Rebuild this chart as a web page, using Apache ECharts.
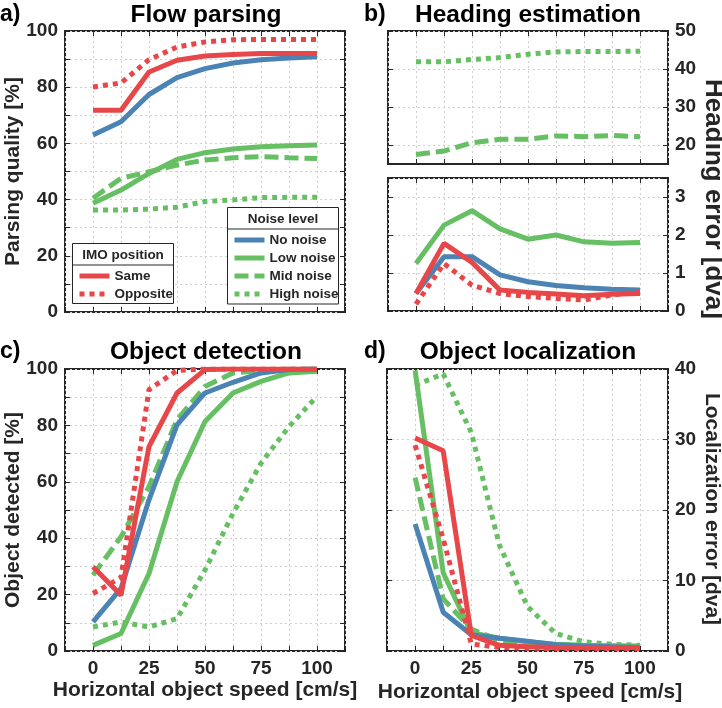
<!DOCTYPE html>
<html><head><meta charset="utf-8">
<script src="https://cdn.jsdelivr.net/npm/echarts@6/dist/echarts.min.js"></script>
<style>html,body{margin:0;padding:0;background:#fff}#c{width:722px;height:708px}</style>
</head><body><div id="c"></div>
<script>
// ---------- data ----------
const speeds = [0, 12.5, 25, 37.5, 50, 62.5, 75, 87.5, 100];
const seriesNames = ['High noise', 'Mid noise', 'Low noise', 'No noise', 'Opposite', 'Same'];
const imoLegend = ['Same', 'Opposite'];
const noiseLegend = ['No noise', 'Low noise', 'Mid noise', 'High noise'];

// a) Flow parsing [%]
const parsingSame      = [71.8, 71.8, 85.4, 89.6, 91.1, 91.6, 92.0, 92.0, 92.0];
const parsingOpposite  = [80.1, 81.5, 89.8, 94.3, 96.1, 96.9, 97.0, 97.0, 97.0];
const parsingNoNoise   = [63.0, 67.7, 77.4, 83.4, 86.6, 88.6, 89.8, 90.4, 90.8];
const parsingLowNoise  = [38.7, 43.4, 49.3, 54.3, 56.7, 58.0, 58.8, 59.2, 59.4];
const parsingMidNoise  = [40.5, 47.6, 49.9, 52.3, 54.1, 54.9, 55.3, 54.9, 54.6];
const parsingHighNoise = [36.3, 36.3, 36.6, 37.3, 39.3, 39.9, 40.7, 40.8, 40.8];

// b) Heading estimation [dva]
const headingSame      = [0.46, 1.78, 1.28, 0.55, 0.49, 0.45, 0.40, 0.44, 0.46];
const headingOpposite  = [0.18, 1.25, 0.68, 0.46, 0.38, 0.33, 0.29, 0.42, 0.51];
const headingNoNoise   = [0.46, 1.43, 1.43, 0.95, 0.77, 0.67, 0.61, 0.57, 0.55];
const headingLowNoise  = [1.25, 2.26, 2.64, 2.16, 1.89, 2.00, 1.82, 1.78, 1.80];
const headingMidNoise  = [17.5, 18.4, 20.6, 21.5, 21.5, 22.4, 22.2, 22.5, 22.2];
const headingHighNoise = [41.9, 41.9, 42.5, 43.0, 43.9, 44.5, 44.6, 44.6, 44.7];

// c) Object detection [%]
const detectSame      = [29.9, 19.8, 72.5, 91.5, 99.8, 100, 100, 100, 100];
const detectOpposite  = [20.4, 26.0, 92.7, 99.5, 100, 100, 100, 100, 100];
const detectNoNoise   = [10.3, 22.2, 53.6, 80.2, 91.5, 95.3, 98.6, 99.8, 100];
const detectLowNoise  = [2.0, 6.2, 27.5, 60.0, 81.4, 91.5, 95.6, 98.6, 99.2];
const detectMidNoise  = [26.9, 40.5, 58.3, 82.0, 93.8, 98.6, 99.5, 100, 100];
const detectHighNoise = [8.5, 10.3, 8.5, 11.5, 28.7, 48.8, 66.6, 79.6, 90.3];

// d) Object localization [dva]
const locSame      = [30.2, 28.4, 2.2, 0.8, 0.6, 0.5, 0.5, 0.5, 0.5];
const locOpposite  = [29.2, 15.9, 1.0, 0.5, 0.4, 0.35, 0.35, 0.35, 0.35];
const locNoNoise   = [18.0, 5.5, 2.3, 1.8, 1.4, 0.9, 0.7, 0.6, 0.5];
const locLowNoise  = [39.8, 11.1, 2.6, 1.8, 1.3, 0.95, 0.8, 0.75, 0.7];
const locMidNoise  = [24.6, 7.4, 3.1, 1.5, 1.0, 0.8, 0.7, 0.65, 0.6];
const locHighNoise = [37.7, 39.3, 31.0, 15.0, 6.3, 2.5, 1.3, 0.95, 0.8];

// tick labels
const xTickLabels = [0, 25, 50, 75, 100];
const headingTopTicks = [20, 30, 40, 50];

// ---------- style ----------
const FONT = '"Liberation Sans", Arial, Helvetica, sans-serif';
const TXT = '#262626';
const RED = '#E8474A', BLUE = '#4B83B5', GREEN = '#66BF63';
const lineStyles = {
  'Same':       {color: RED,   type: 'solid'},
  'Opposite':   {color: RED,   type: [5, 5]},
  'No noise':   {color: BLUE,  type: 'solid'},
  'Low noise':  {color: GREEN, type: 'solid'},
  'Mid noise':  {color: GREEN, type: [14, 6]},
  'High noise': {color: GREEN, type: [5, 5]}
};

const panels = [
  {grid: {left: 65, top: 31, width: 280, height: 281}, ySide: 'left', xLabels: false,
   y: {min: 0, max: 100, interval: 10, fmt: v => (v % 20 === 0 ? String(v) : '')},
   data: {'Same': parsingSame, 'Opposite': parsingOpposite, 'No noise': parsingNoNoise,
          'Low noise': parsingLowNoise, 'Mid noise': parsingMidNoise, 'High noise': parsingHighNoise}},
  {grid: {left: 388, top: 31, width: 280, height: 133}, ySide: 'right', xLabels: false,
   y: {min: 15, max: 50, custom: headingTopTicks},
   data: {'Mid noise': headingMidNoise, 'High noise': headingHighNoise}},
  {grid: {left: 388, top: 178, width: 280, height: 133}, ySide: 'right', xLabels: false,
   y: {min: 0, max: 3.5, interval: 1, fmt: v => (Number.isInteger(v) ? String(v) : '')},
   data: {'Same': headingSame, 'Opposite': headingOpposite, 'No noise': headingNoNoise,
          'Low noise': headingLowNoise}},
  {grid: {left: 65, top: 369, width: 280, height: 282}, ySide: 'left', xLabels: true,
   y: {min: 0, max: 100, interval: 10, fmt: v => (v % 20 === 0 ? String(v) : '')},
   data: {'Same': detectSame, 'Opposite': detectOpposite, 'No noise': detectNoNoise,
          'Low noise': detectLowNoise, 'Mid noise': detectMidNoise, 'High noise': detectHighNoise}},
  {grid: {left: 387, top: 369, width: 281, height: 282}, ySide: 'right', xLabels: true,
   y: {min: 0, max: 40, interval: 10, fmt: v => String(v)},
   data: {'Same': locSame, 'Opposite': locOpposite, 'No noise': locNoNoise,
          'Low noise': locLowNoise, 'Mid noise': locMidNoise, 'High noise': locHighNoise}}
];

const grids = [], xAxes = [], yAxes = [], series = [];
const labelStyle = {fontSize: 19, fontWeight: 'bold', color: TXT, fontFamily: FONT};
const tickStyle = {show: true, inside: true, length: 5, lineStyle: {color: TXT, width: 1}};
const gridLine = {show: true, lineStyle: {color: '#cfcfcf', type: [2, 3], width: 1}};
const noLine = {show: false, onZero: false};

panels.forEach((p, i) => {
  grids.push(Object.assign({show: true, borderColor: TXT, borderWidth: 2, backgroundColor: 'transparent'}, p.grid));
  const xBase = {gridIndex: i, type: 'value', min: -12.5, max: 112.5, interval: 12.5, axisLine: noLine};
  xAxes.push(Object.assign({}, xBase, {
    position: 'bottom', axisTick: tickStyle, splitLine: gridLine,
    axisLabel: Object.assign({show: p.xLabels, margin: 8,
      formatter: v => (xTickLabels.indexOf(v) >= 0 ? String(v) : '')}, labelStyle)
  }));
  xAxes.push(Object.assign({}, xBase, {position: 'top', axisTick: tickStyle, splitLine: {show: false}, axisLabel: {show: false}}));
  const yBase = {gridIndex: i, type: 'value', min: p.y.min, max: p.y.max, axisLine: noLine};
  if (p.y.interval) yBase.interval = p.y.interval;
  const tk = p.y.custom ? Object.assign({customValues: p.y.custom}, tickStyle) : tickStyle;
  yAxes.push(Object.assign({}, yBase, {
    position: p.ySide, splitLine: gridLine, axisTick: tk,
    axisLabel: Object.assign({margin: 7}, labelStyle,
      p.y.custom ? {customValues: p.y.custom} : {formatter: p.y.fmt})
  }));
  yAxes.push(Object.assign({}, yBase, {
    position: p.ySide === 'left' ? 'right' : 'left', axisTick: tk,
    splitLine: {show: false}, axisLabel: {show: false}
  }));
  seriesNames.forEach(name => {
    const vals = p.data[name];
    if (!vals) return;
    series.push({
      name: name, type: 'line', xAxisIndex: 2 * i, yAxisIndex: 2 * i,
      data: speeds.map((s, k) => [s, vals[k]]),
      symbol: 'none', clip: true, silent: true, animation: false,
      lineStyle: {width: 5, color: lineStyles[name].color, type: lineStyles[name].type},
      itemStyle: {color: lineStyles[name].color}
    });
  });
});

const legendText = {fontSize: 13.5, fontWeight: 'bold', color: TXT, fontFamily: FONT};
function legendCfg(data, left, top) {
  return {data: data, left: left, top: top, orient: 'vertical', padding: [25.7, 4, 2.3, 4.3],
    itemWidth: 30, itemHeight: 14, itemGap: 4, selectedMode: false, z: 6,
    textStyle: legendText, lineStyle: {width: 5},
    itemStyle: {opacity: 0, color: 'rgba(0,0,0,0)', borderWidth: 0}};
}

function txt(text, x, y, size, opts) {
  return Object.assign({type: 'text', x: x, y: y, z: 20,
    style: {text: text, font: 'bold ' + size + 'px ' + FONT, fill: (opts && opts.fill) || TXT,
      textAlign: (opts && opts.align) || 'center', textVerticalAlign: 'middle'}},
    opts && opts.rotation !== undefined ? {rotation: opts.rotation} : {});
}

const graphic = [
  txt('a)', 0, 15, 23, {align: 'left', fill: '#000'}),
  txt('Flow parsing', 206, 15, 24.5, {fill: '#000'}),
  txt('b)', 364, 15, 23, {align: 'left', fill: '#000'}),
  txt('Heading estimation', 528, 15, 24.5, {fill: '#000'}),
  txt('c)', 0, 352, 23, {align: 'left', fill: '#000'}),
  txt('Object detection', 206, 352, 24.5, {fill: '#000'}),
  txt('d)', 364, 352, 23, {align: 'left', fill: '#000'}),
  txt('Object localization', 528, 352, 24.5, {fill: '#000'}),
  txt('Parsing quality [%]', 13, 171.5, 21, {rotation: Math.PI / 2}),
  txt('Object detected [%]', 13, 510, 21, {rotation: Math.PI / 2}),
  txt('Heading error [dva]', 713, 199, 26, {rotation: -Math.PI / 2}),
  txt('Localization error [dva]', 712, 509, 21, {rotation: -Math.PI / 2}),
  txt('Horizontal object speed [cm/s]', 205, 690, 21),
  txt('Horizontal object speed [cm/s]', 530, 692, 21),
  // legend boxes
  {type: 'rect', z: 5, shape: {x: 72.5, y: 243.5, width: 101, height: 60},
   style: {fill: '#fff', stroke: TXT, lineWidth: 1}},
  {type: 'line', z: 7, shape: {x1: 72.5, y1: 265, x2: 173.5, y2: 265}, style: {stroke: TXT, lineWidth: 1}},
  txt('IMO position', 123, 255, 13.5),
  {type: 'rect', z: 5, shape: {x: 227.5, y: 207.5, width: 111, height: 96.5},
   style: {fill: '#fff', stroke: TXT, lineWidth: 1}},
  {type: 'line', z: 7, shape: {x1: 227.5, y1: 229, x2: 338.5, y2: 229}, style: {stroke: TXT, lineWidth: 1}},
  txt('Noise level', 283, 219, 13.5)
];

const chart = echarts.init(document.getElementById('c'), null, {renderer: 'canvas'});
chart.setOption({
  animation: false,
  backgroundColor: '#fff',
  grid: grids, xAxis: xAxes, yAxis: yAxes, series: series,
  legend: [legendCfg(imoLegend, 72.7, 243.3), legendCfg(noiseLegend, 227.7, 207.3)],
  graphic: graphic
});
</script></body></html>
